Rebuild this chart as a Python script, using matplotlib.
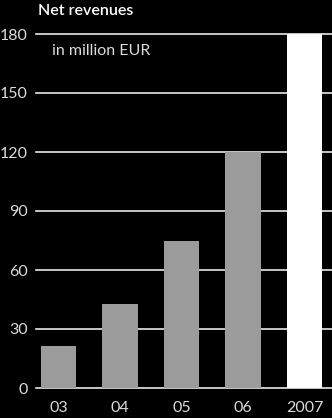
import matplotlib
matplotlib.use("Agg")
import matplotlib.pyplot as plt

years = ["03", "04", "05", "06", "2007"]
revenues = [21.5, 42.5, 75, 120, 180]
bar_colors = ["#9b9b9b", "#9b9b9b", "#9b9b9b", "#9b9b9b", "#ffffff"]
yticks = [0, 30, 60, 90, 120, 150, 180]

plt.rcParams["font.family"] = ["Lato", "DejaVu Sans"]

W, H = 332, 418
fig = plt.figure(figsize=(W / 100, H / 100), dpi=100, facecolor="black")
ax = fig.add_axes([36 / W, 30 / H, (W - 36) / W, (388 - 34) / H], facecolor="black")

x = list(range(len(years)))
ax.bar(x, revenues, width=0.57, color=bar_colors, zorder=3)

for y in yticks:
    ax.axhline(y, color="#e8e8e8", linewidth=1.2, zorder=1, clip_on=False)

ax.set_xlim(-0.366, 4.447)
ax.set_ylim(0, 180)
ax.set_yticks(yticks)
ax.set_xticks(x)
ax.set_xticklabels(years)
ax.tick_params(axis="both", length=0, colors="#dcdcdc", labelsize=11.5)
ax.tick_params(axis="y", pad=6)
ax.tick_params(axis="x", pad=9)
for s in ax.spines.values():
    s.set_visible(False)

fig.text(38 / W, 1 - 11 / H, "Net revenues", color="white", fontsize=11.5,
         fontweight="semibold", va="center", ha="left")
ax.text((52 - 36) / (W - 36), 1 - (51 - 34) / (388 - 34),
        "in million EUR", transform=ax.transAxes, color="#dcdcdc",
        fontsize=11.5, va="center", ha="left")

fig.savefig("out.png", dpi=100, facecolor="black")
